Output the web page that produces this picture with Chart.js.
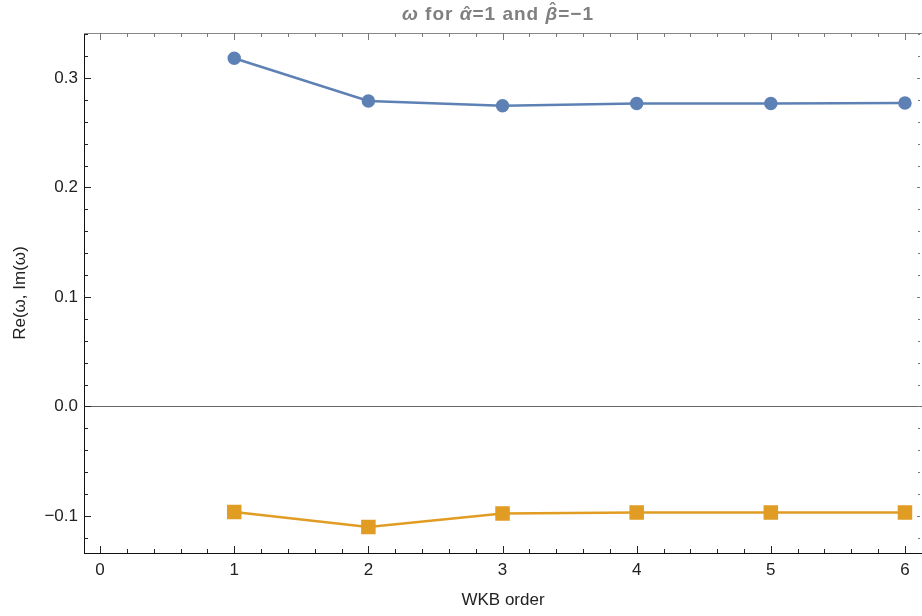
<!DOCTYPE html>
<html>
<head>
<meta charset="utf-8">
<script src="https://cdn.jsdelivr.net/npm/chart.js@4.4.1/dist/chart.umd.min.js"></script>
<style>
  html, body { margin: 0; padding: 0; background: #fff; }
  #wrap { width: 922px; height: 616px; }
</style>
</head>
<body>
<div id="wrap"><canvas id="myChart" width="922" height="616"></canvas></div>
<script>
const orders = [1, 2, 3, 4, 5, 6]
const reOmega = [0.318, 0.279, 0.2745, 0.2767, 0.2767, 0.277]
const imOmega = [-0.0963, -0.110, -0.0977, -0.0968, -0.0968, -0.0968]
const xTicks = [0, 1, 2, 3, 4, 5, 6]
const yTicks = [-0.1, 0, 0.1, 0.2, 0.3]

// title pieces: [text, italic, hat lift]
const titleParts = [
  ['ω', true, null],
  [' for ', false, null],
  ['α', true, 1],
  ['=1 and ', false, null],
  ['β', true, 5],
  ['=−1', false, null],
]

const FONT = 'Liberation Sans, Arial, sans-serif'

// Mathematica-style frame: inward ticks on all four sides, zero line, title
const frameTicks = {
  id: 'frameTicks',
  beforeDatasetsDraw(chart) {
    const { ctx, chartArea: a, scales } = chart
    const y0 = scales.y.getPixelForValue(0)
    ctx.save()
    ctx.strokeStyle = '#666'
    ctx.lineWidth = 1
    ctx.beginPath()
    ctx.moveTo(a.left, Math.round(y0) + 0.5)
    ctx.lineTo(a.right, Math.round(y0) + 0.5)
    ctx.stroke()
    ctx.restore()
  },
  afterDraw(chart) {
    const { ctx, chartArea: a, scales } = chart
    ctx.save()
    ctx.lineWidth = 1
    // top frame line
    ctx.strokeStyle = '#888'
    ctx.beginPath()
    ctx.moveTo(a.left, a.top + 0.5)
    ctx.lineTo(a.right, a.top + 0.5)
    ctx.stroke()
    for (let i = 0; i <= 31; i++) {
      const v = i * 0.2
      const major = i % 5 === 0
      const px = Math.round(scales.x.getPixelForValue(v)) + 0.5
      if (px > a.right) continue
      const len = major ? 7 : 4
      ctx.strokeStyle = '#222'
      ctx.beginPath()
      ctx.moveTo(px, a.bottom)
      ctx.lineTo(px, a.bottom - len)
      ctx.stroke()
      ctx.strokeStyle = '#777'
      ctx.beginPath()
      ctx.moveTo(px, a.top)
      ctx.lineTo(px, a.top + len)
      ctx.stroke()
    }
    for (let i = -6; i <= 17; i++) {
      const v = i * 0.02
      const major = i % 5 === 0
      const py = Math.round(scales.y.getPixelForValue(v)) + 0.5
      if (py < a.top || py > a.bottom) continue
      const len = major ? 7 : 4
      ctx.strokeStyle = '#222'
      ctx.beginPath()
      ctx.moveTo(a.left, py)
      ctx.lineTo(a.left + len, py)
      ctx.stroke()
      ctx.strokeStyle = '#777'
      ctx.beginPath()
      ctx.moveTo(a.right - 2, py)
      ctx.lineTo(a.right - 2 - (major ? 3 : 2), py)
      ctx.stroke()
    }

    // title
    const size = 19
    ctx.fillStyle = '#808080'
    ctx.textBaseline = 'alphabetic'
    ctx.textAlign = 'left'
    ctx.letterSpacing = '1px'
    const fontFor = (it) => (it ? 'italic ' : '') + 'bold ' + size + 'px ' + FONT
    let total = 0
    titleParts.forEach(([t, it]) => { ctx.font = fontFor(it); total += ctx.measureText(t).width })
    let x = (a.left + a.right) / 2 - 5 - total / 2
    const base = 20
    titleParts.forEach(([t, it, lift]) => {
      ctx.font = fontFor(it)
      const w = ctx.measureText(t).width
      ctx.fillText(t, x, base)
      if (lift !== null) {
        ctx.font = 'bold ' + (size - 2) + 'px ' + FONT
        ctx.textAlign = 'center'
        ctx.fillText('ˆ', x + w / 2 + 1, base - lift)
        ctx.textAlign = 'left'
      }
      x += w
    })
    ctx.restore()
  },
}

const data = {
  datasets: [
    {
      label: 'Re(ω)',
      data: orders.map((o, i) => ({ x: o, y: reOmega[i] })),
      borderColor: '#5e81b5',
      backgroundColor: '#5e81b5',
      borderWidth: 2.5,
      pointStyle: 'circle',
      pointRadius: 5.5,
      showLine: true,
    },
    {
      label: 'Im(ω)',
      data: orders.map((o, i) => ({ x: o, y: imOmega[i] })),
      borderColor: '#e19c24',
      backgroundColor: '#e19c24',
      borderWidth: 2.5,
      pointStyle: 'rect',
      pointRadius: 8.5,
      showLine: true,
    },
  ],
}

const zeroPad = (s) => {
  s.paddingLeft = 0
  s.paddingRight = 0
  s.paddingTop = 0
  s.paddingBottom = 0
}

const config = {
  type: 'scatter',
  data: data,
  options: {
    responsive: false,
    animation: false,
    layout: { autoPadding: false, padding: { top: 33, right: 0, left: 0, bottom: 0 } },
    elements: { point: { borderWidth: 0 }, line: { tension: 0 } },
    plugins: {
      legend: { display: false },
      tooltip: { enabled: false },
      title: { display: false },
    },
    scales: {
      x: {
        type: 'linear',
        min: -0.12,
        max: 6.127,
        afterFit: (s) => { s.height = 63; zeroPad(s) },
        afterBuildTicks: (s) => { s.ticks = xTicks.map((v) => ({ value: v })) },
        grid: { display: true, drawOnChartArea: false, drawTicks: true, tickLength: 7, color: 'rgba(0,0,0,0)' },
        border: { display: true, color: '#111', width: 1 },
        ticks: {
          color: '#222',
          padding: 0,
          font: { family: FONT, size: 17 },
          callback: (v) => String(v),
        },
        title: {
          display: true,
          text: 'WKB order',
          color: '#222',
          font: { family: FONT, size: 17 },
          padding: { top: 4, bottom: 5 },
        },
      },
      y: {
        type: 'linear',
        min: -0.1338,
        max: 0.341,
        afterFit: (s) => { s.width = 84; zeroPad(s) },
        afterBuildTicks: (s) => { s.ticks = yTicks.map((v) => ({ value: v })) },
        grid: { display: false, drawTicks: false },
        border: { display: true, color: '#111', width: 1 },
        ticks: {
          color: '#222',
          padding: 6,
          font: { family: FONT, size: 17 },
          callback: (v) => (v < 0 ? '\u2212' + Math.abs(v).toFixed(1) : v.toFixed(1)),
        },
        title: {
          display: true,
          text: 'Re(ω, Im(ω)',
          color: '#222',
          font: { family: FONT, size: 17 },
          padding: { top: 10, bottom: 4 },
        },
      },
    },
  },
  plugins: [frameTicks],
}

var myChart = new Chart(document.getElementById('myChart'), config)
</script>
</body>
</html>
